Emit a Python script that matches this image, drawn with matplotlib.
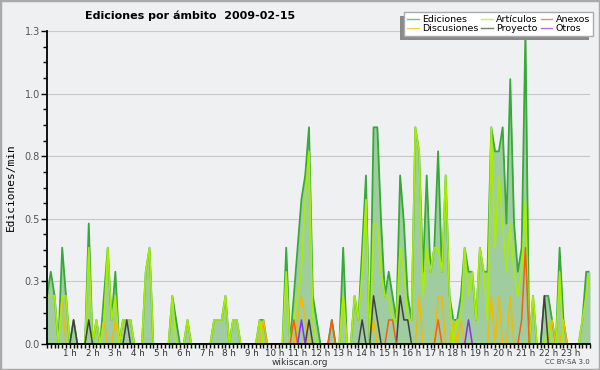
import numpy as np
import matplotlib
matplotlib.use("Agg")
import matplotlib.pyplot as plt
from matplotlib.ticker import AutoMinorLocator, MultipleLocator, FixedLocator
from matplotlib.patches import Rectangle

# 10-minute bins over the day (144 points), values in edits/min
ediciones = [
    0.2, 0.3, 0.2, 0.0, 0.4, 0.2, 0.0, 0.1, 0.0, 0.0, 0.0, 0.5,
    0.0, 0.1, 0.0, 0.2, 0.4, 0.1, 0.3, 0.0, 0.1, 0.1, 0.1, 0.0,
    0.0, 0.0, 0.3, 0.4, 0.0, 0.0, 0.0, 0.0, 0.0, 0.2, 0.1, 0.0,
    0.0, 0.1, 0.0, 0.0, 0.0, 0.0, 0.0, 0.0, 0.1, 0.1, 0.1, 0.2,
    0.0, 0.1, 0.1, 0.0, 0.0, 0.0, 0.0, 0.0, 0.1, 0.1, 0.0, 0.0,
    0.0, 0.0, 0.0, 0.4, 0.0, 0.2, 0.4, 0.6, 0.7, 0.9, 0.2, 0.1,
    0.0, 0.0, 0.0, 0.1, 0.0, 0.0, 0.4, 0.0, 0.0, 0.2, 0.1, 0.4,
    0.7, 0.0, 0.9, 0.9, 0.5, 0.2, 0.3, 0.2, 0.1, 0.7, 0.5, 0.2,
    0.1, 0.9, 0.8, 0.3, 0.7, 0.3, 0.4, 0.8, 0.3, 0.7, 0.2, 0.1,
    0.1, 0.2, 0.4, 0.3, 0.3, 0.1, 0.4, 0.3, 0.3, 0.9, 0.8, 0.8,
    0.9, 0.5, 1.1, 0.5, 0.3, 0.4, 1.3, 0.0, 0.2, 0.0, 0.0, 0.2,
    0.2, 0.1, 0.0, 0.4, 0.1, 0.0, 0.0, 0.0, 0.0, 0.1, 0.3, 0.3,
]
articulos = [
    0.2, 0.2, 0.2, 0.0, 0.2, 0.2, 0.0, 0.0, 0.0, 0.0, 0.0, 0.4,
    0.0, 0.1, 0.0, 0.1, 0.4, 0.1, 0.2, 0.0, 0.1, 0.1, 0.1, 0.0,
    0.0, 0.0, 0.3, 0.4, 0.0, 0.0, 0.0, 0.0, 0.0, 0.2, 0.0, 0.0,
    0.0, 0.1, 0.0, 0.0, 0.0, 0.0, 0.0, 0.0, 0.1, 0.1, 0.1, 0.2,
    0.0, 0.1, 0.1, 0.0, 0.0, 0.0, 0.0, 0.0, 0.1, 0.0, 0.0, 0.0,
    0.0, 0.0, 0.0, 0.3, 0.0, 0.1, 0.2, 0.3, 0.6, 0.8, 0.1, 0.0,
    0.0, 0.0, 0.0, 0.0, 0.0, 0.0, 0.2, 0.0, 0.0, 0.2, 0.1, 0.3,
    0.6, 0.0, 0.5, 0.5, 0.3, 0.2, 0.2, 0.1, 0.1, 0.4, 0.3, 0.1,
    0.1, 0.9, 0.8, 0.2, 0.4, 0.3, 0.4, 0.4, 0.3, 0.7, 0.2, 0.0,
    0.1, 0.1, 0.4, 0.2, 0.3, 0.1, 0.4, 0.3, 0.1, 0.9, 0.4, 0.7,
    0.5, 0.3, 0.5, 0.3, 0.2, 0.3, 0.6, 0.0, 0.2, 0.0, 0.0, 0.0,
    0.1, 0.0, 0.0, 0.3, 0.0, 0.0, 0.0, 0.0, 0.0, 0.1, 0.2, 0.3,
]
# sparse series: bin index -> value
discusiones = {4: 0.2, 15: 0.1, 18: 0.1, 57: 0.1, 66: 0.1, 67: 0.2, 68: 0.1,
               78: 0.2, 86: 0.1, 98: 0.2, 103: 0.2, 104: 0.2, 107: 0.1, 109: 0.1,
               117: 0.2, 119: 0.2, 122: 0.2, 133: 0.1, 136: 0.1}
proyecto = {7: 0.1, 11: 0.1, 21: 0.1, 69: 0.1, 83: 0.1, 86: 0.2, 87: 0.1,
            93: 0.2, 94: 0.1, 95: 0.1, 131: 0.2}
anexos = {65: 0.1, 75: 0.1, 90: 0.1, 91: 0.1, 103: 0.1, 125: 0.1, 126: 0.4}
otros = {67: 0.1, 111: 0.1}
hour_labels = [f"{h} h" for h in range(1, 24)]

N = len(ediciones)
x = np.arange(N)


def dense(d):
    arr = np.zeros(N)
    for k, v in d.items():
        arr[k] = v
    return arr


BG = "#eff0f2"
fig = plt.figure(figsize=(6, 3.7), dpi=100, facecolor=BG)
ax = fig.add_axes([47 / 600, 26 / 370, 543 / 600, 313 / 370], facecolor=BG)

ax.fill_between(x, 0, ediciones, color="#9fcd9f", lw=0, zorder=1)
ax.plot(x, ediciones, color="#36a936", lw=1.3, zorder=3, label="Ediciones")
ax.plot(x, dense(discusiones), color="#f2bb00", lw=1.1, zorder=3, label="Discusiones")
ax.plot(x, articulos, color="#a8ee00", lw=1.2, zorder=3, label="Artículos")
ax.plot(x, dense(proyecto), color="#404040", lw=1.1, zorder=3, label="Proyecto")
ax.plot(x, dense(anexos), color="#f06018", lw=1.1, zorder=3, label="Anexos")
ax.plot(x, dense(otros), color="#8a30f0", lw=1.1, zorder=3, label="Otros")

ax.set_xlim(0, N - 1)
ax.set_ylim(0, 1.3)
yt = np.linspace(0, 1.3, 6)
ax.set_yticks(yt)
ax.set_yticklabels([f"{v:.1f}" for v in yt])
ax.yaxis.set_minor_locator(AutoMinorLocator(4))
ax.xaxis.set_major_locator(FixedLocator(np.arange(6, N, 6)))
ax.set_xticklabels(hour_labels)
ax.xaxis.set_minor_locator(MultipleLocator(1))
ax.tick_params(axis="x", which="both", length=3, width=1, direction="out", pad=0.5,
               labelsize=6.3, labelcolor="#333333")
ax.tick_params(axis="y", which="major", length=4, width=1, labelsize=7, labelcolor="#555555", pad=1)
ax.tick_params(axis="y", which="minor", length=3, width=1)
ax.grid(axis="y", color="#c8c8c8", lw=0.8, zorder=0)
ax.set_axisbelow(True)
for s in ("top", "right"):
    ax.spines[s].set_visible(False)
for s in ("left", "bottom"):
    ax.spines[s].set_linewidth(1.3)
    ax.spines[s].set_zorder(5)

ax.set_ylabel("Ediciones/min", family="DejaVu Sans Mono", fontsize=8, labelpad=6)

fig.text(85 / 600, 1 - 16 / 370, "Ediciones por ámbito  2009-02-15", fontsize=8,
         fontweight="bold", ha="left", va="center")

leg = fig.legend(loc="upper right", bbox_to_anchor=(593 / 600, 1 - 12 / 370), ncol=3,
                 fontsize=6.8, frameon=True, fancybox=False, edgecolor="#aaaaaa",
                 framealpha=1, borderpad=0.3, labelspacing=0.05, handlelength=1.25,
                 handletextpad=0.35, columnspacing=0.3, borderaxespad=0,
                 shadow={"ox": -3, "oy": -3, "facecolor": "#8a8a8a", "edgecolor": "none", "alpha": 1})
for h in leg.get_lines():
    h.set_linewidth(1.0)
    h.set_alpha(0.7)

fig.text(300 / 600, 1 - 362.5 / 370, "wikiscan.org", fontsize=6.5, color="#333333",
         ha="center", va="center")
fig.text(590 / 600, 1 - 362.5 / 370, "CC BY-SA 3.0", fontsize=5, color="#444444",
         ha="right", va="center")
fig.patches.append(Rectangle((0, 0), 1, 1, transform=fig.transFigure, fill=False,
                             edgecolor="#aaaaaa", lw=2.5))

fig.savefig("out.png", dpi=100, facecolor=BG)
